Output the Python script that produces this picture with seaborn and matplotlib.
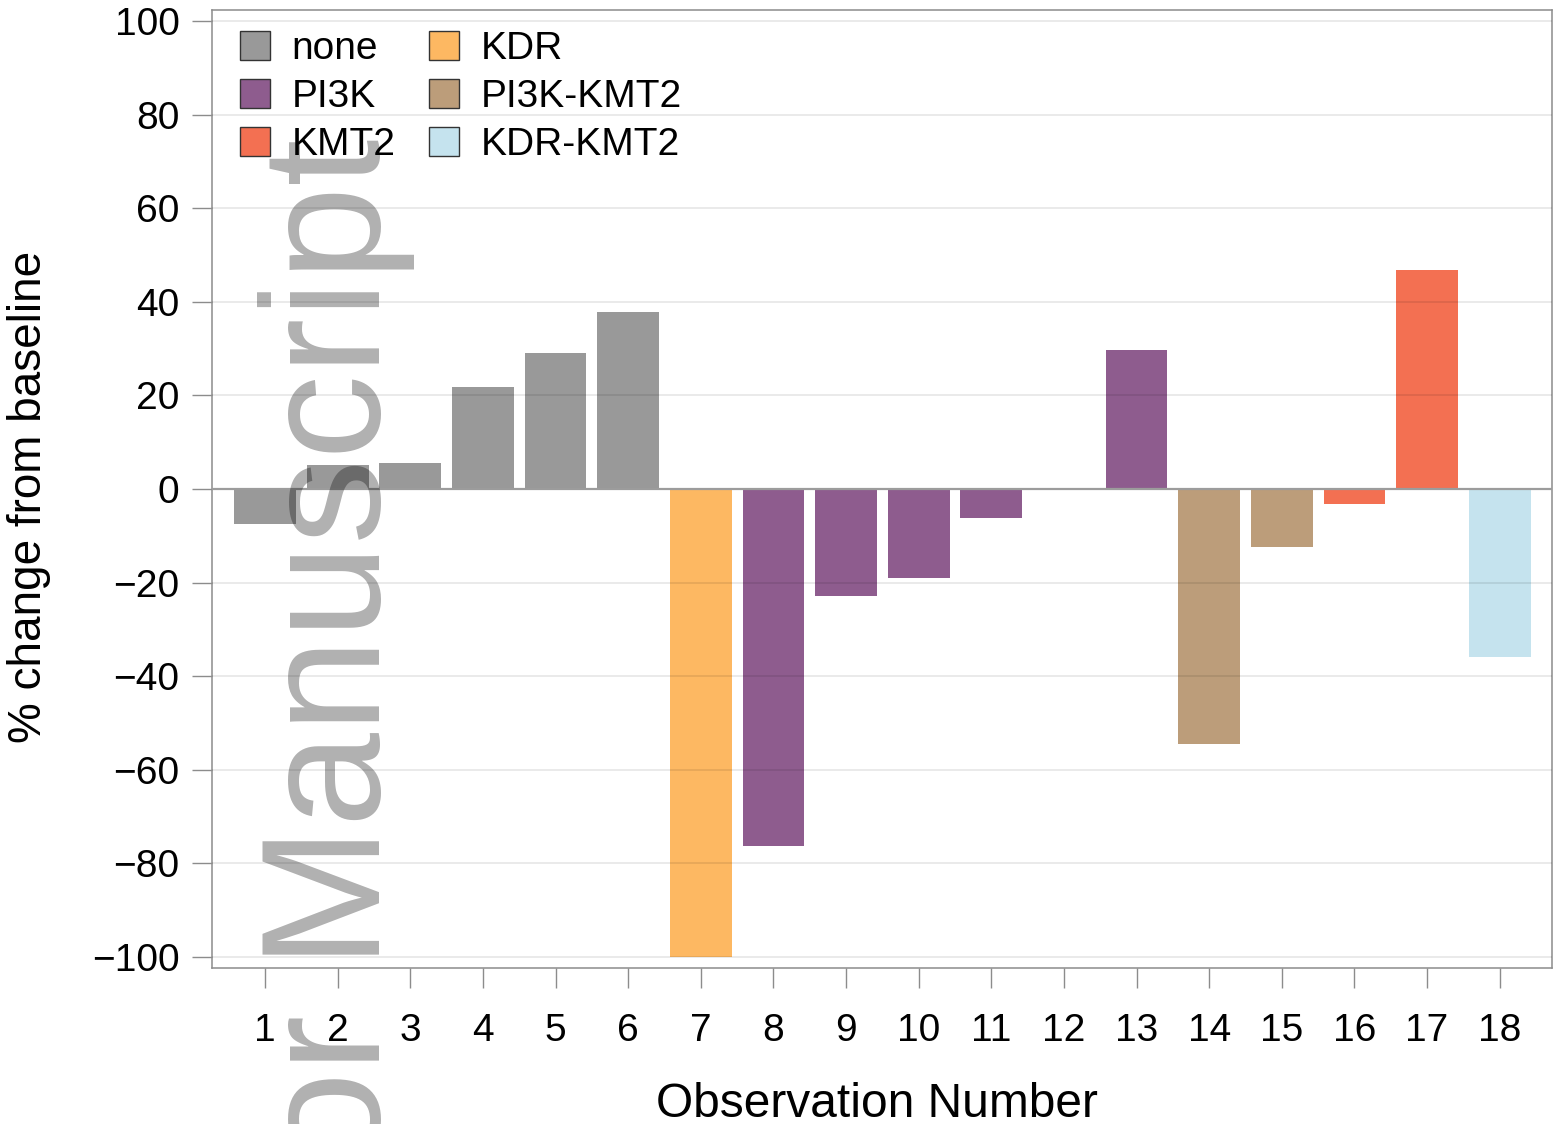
import matplotlib
matplotlib.use("Agg")
import matplotlib.pyplot as plt
from matplotlib.patches import Patch
import seaborn as sns
import pandas as pd

# Waterfall data: best % change from baseline per observation
observations = [str(i) for i in range(1, 19)]
pct_change = [-7.5, 5.1, 5.6, 21.8, 29.1, 37.8, -100.0, -76.3, -22.9, -19.0,
              -6.2, 0.0, 29.7, -54.5, -12.3, -3.2, 46.9, -35.9]
mutation = ["none", "none", "none", "none", "none", "none", "KDR", "PI3K",
            "PI3K", "PI3K", "PI3K", "none", "PI3K", "PI3K-KMT2", "PI3K-KMT2",
            "KMT2", "KMT2", "KDR-KMT2"]

groups = ["none", "PI3K", "KMT2", "KDR", "PI3K-KMT2", "KDR-KMT2"]
group_colors = ["#999999", "#8E5C8E", "#F37052", "#FDB862", "#BC9D7A", "#C5E3EE"]
y_ticks = list(range(-100, 101, 20))

df = pd.DataFrame({"obs": observations, "change": pct_change, "group": mutation})
palette = dict(zip(groups, group_colors))

sns.set_style("white")
plt.rcParams["font.family"] = ["Liberation Sans", "DejaVu Sans"]
plt.rcParams["text.color"] = "black"
plt.rcParams["axes.labelcolor"] = "black"
plt.rcParams["xtick.color"] = "black"
plt.rcParams["ytick.color"] = "black"

fig = plt.figure(figsize=(15.57, 11.24), dpi=100)
ax = fig.add_axes([212 / 1557, 1 - 968 / 1124, 1340 / 1557, 958 / 1124])

sns.barplot(data=df, x="obs", y="change", hue="group", hue_order=groups,
            order=observations, palette=palette, dodge=False, width=0.85,
            saturation=1, legend=False, ax=ax, linewidth=0, zorder=2)

ax.set_xlim(-0.73, 17.72)
ax.set_ylim(-102.35, 102.35)
ax.set_yticks(y_ticks)

# light grid over bars, zero reference line
ax.set_axisbelow(False)
ax.grid(axis="y", color="black", alpha=0.09, lw=1.3)
ax.grid(axis="x", visible=False)
ax.axhline(0, color="#9c9c9c", lw=1.6, zorder=3)

for sp in ax.spines.values():
    sp.set_visible(True)
    sp.set_color("#8c8c8c")
    sp.set_linewidth(1.1)

ax.tick_params(axis="both", direction="out", length=14.4, width=1.0,
               color="#8c8c8c", labelcolor="black", bottom=True, left=True,
               labelsize=28)
ax.tick_params(axis="y", pad=9)
ax.tick_params(axis="x", pad=18)

ax.set_xlabel("Observation Number", fontsize=34.5, color="black")
ax.set_ylabel("% change from baseline", fontsize=33, color="black")
ax.xaxis.set_label_coords((877 - 212) / 1340, (968 - 1082) / 958)
ax.yaxis.set_label_coords((51 - 212) / 1340, (968 - 497) / 958)

handles = [Patch(facecolor=c, edgecolor="#333333", lw=1.0) for c in group_colors]
leg = ax.legend(handles, groups, ncol=2, loc="upper left", frameon=False,
                bbox_to_anchor=(28 / 1340, 1 - 21 / 958), borderpad=0,
                borderaxespad=0, fontsize=28, handlelength=0.78,
                handleheight=0.78, handletextpad=0.55, columnspacing=0.85,
                labelspacing=0.3)
for t in leg.get_texts():
    t.set_color("black")

# watermark
fig.text(380 / 1557, 1 - 138 / 1124, "Author Manuscript", rotation=90,
         rotation_mode="anchor", ha="right", va="baseline", fontsize=122,
         family="Liberation Sans", color="black", alpha=0.31, zorder=10)

fig.savefig("out.png", dpi=100)
